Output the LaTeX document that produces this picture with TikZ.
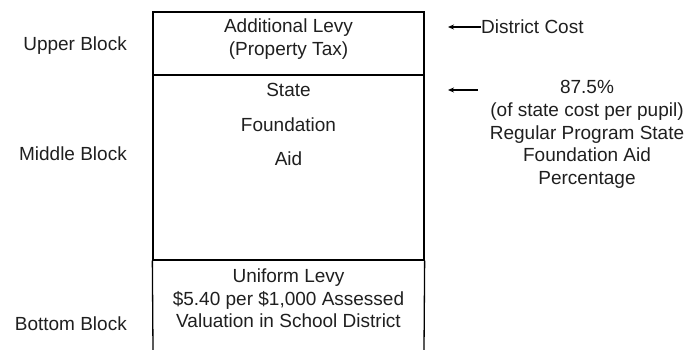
\documentclass[tikz,border=0pt]{standalone}
\usepackage{fontspec}
\setmainfont{Liberation Sans}
\usetikzlibrary{arrows.meta}
\begin{document}
\begin{tikzpicture}[x=1pt,y=-1pt,
  lbl/.style={font=\fontsize{19}{22.6}\selectfont, text=black!88, align=center, inner sep=0pt},
  section/.style={draw, line width=1.3pt, minimum width=271pt, inner sep=0pt},
  pointer/.style={line width=1.2pt, {Stealth[length=6pt,width=5pt]}-}]
  \useasboundingbox (0,0) rectangle (688,350);

  % stacked funding blocks
  \node[section, minimum height=63pt] (upper) at (288.5,43.5) {};
  \node[section, minimum height=185pt] (middle) at (288.5,167.5) {};
  \draw[line width=1.3pt] (middle.south west) -- (153,350);
  \draw[line width=1.3pt] (middle.south east) -- (424,350);

  % texts inside the blocks
  \node[lbl] (levytxt) at (288.5,39) {Additional Levy\\(Property Tax)};
  \node[lbl, font=\fontsize{19}{34.5}\selectfont] (aidtxt) at (288.5,124.5) {State\\Foundation\\Aid};
  \node[lbl] (uniformtxt) at (288.5,298.5) {Uniform Levy\\\$5.40 per \$1,000 Assessed\\Valuation in School District};

  % block names on the left
  \node[lbl, anchor=east] (upname) at (127,46) {Upper Block};
  \node[lbl, anchor=east] (midname) at (127,154) {Middle Block};
  \node[lbl, anchor=east] (botname) at (127,324) {Bottom Block};

  % annotations on the right
  \node[lbl, anchor=west] (district) at (481,27) {District Cost};
  \coordinate (tipA) at (448,27);
  \draw[pointer] (tipA) -- (district.west);

  \node[lbl] (pct) at (587,134.5) {87.5\%\\(of state cost per pupil)\\Regular Program State\\Foundation Aid\\Percentage};
  \coordinate (tipB) at (448,90);
  \coordinate (tailB) at (478,90);
  \draw[pointer] (tipB) -- (tailB);
\end{tikzpicture}
\end{document}
